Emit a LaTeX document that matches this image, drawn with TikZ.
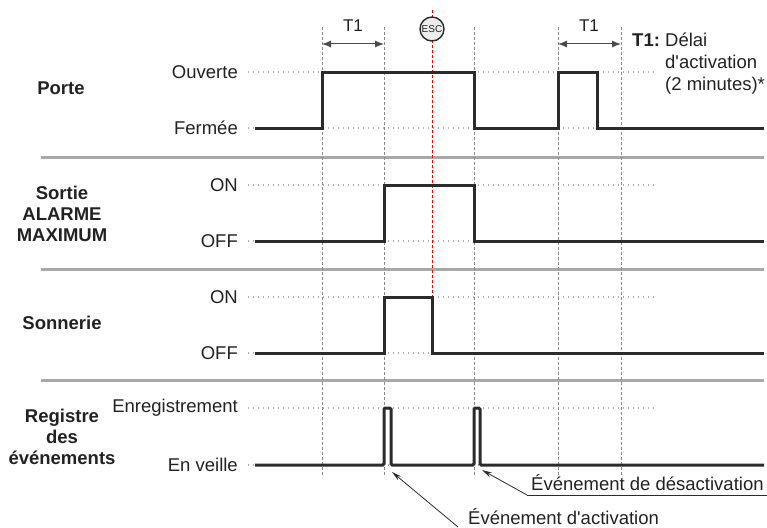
\documentclass[tikz,border=0pt]{standalone}
\usepackage{fontspec}
\setmainfont{Liberation Sans}[Ligatures=TeXOff]
\usetikzlibrary{arrows.meta}
\definecolor{sig}{HTML}{2B2B2B}
\definecolor{sepc}{HTML}{A8A8A8}
\definecolor{gridc}{HTML}{8A8A8A}
\definecolor{dotc}{HTML}{ADADAD}
\definecolor{txt}{HTML}{222222}
\begin{document}
\begin{tikzpicture}[x=1pt,y=-1pt,
  signal/.style={line width=3pt, draw=sig, line join=miter},
  sepline/.style={line width=3pt, draw=sepc},
  vgrid/.style={draw=gridc, line width=0.8pt, dash pattern=on 3pt off 2pt},
  redgrid/.style={draw=red, line width=0.8pt, dash pattern=on 3pt off 2pt},
  hdot/.style={draw=dotc, line width=1.1pt, dash pattern=on 1pt off 4pt},
  lvl/.style={anchor=east, inner sep=0pt, text=txt, font=\fontsize{18.5}{21}\selectfont},
  rowlbl/.style={inner sep=0pt, text=txt, align=center, font=\bfseries\fontsize{18.5}{21}\selectfont},
  tarrow/.style={draw=sig!85, line width=1pt, {Latex[length=9pt,width=7pt]}-{Latex[length=9pt,width=7pt]}},
  annot/.style={draw=sig, line width=0.8pt},
  annotarrow/.style={annot, -{Stealth[length=10pt,width=5pt]}},
  txtlbl/.style={inner sep=0pt, text=txt, font=\fontsize{18.5}{22}\selectfont}
]
\useasboundingbox (0,0) rectangle (767,527);

% separators
\draw[sepline] (41,157) -- (764,157);
\draw[sepline] (41,269) -- (764,269);
\draw[sepline] (41,380) -- (764,380);

% dotted level lines
\foreach \yy in {72,128,185,241,297,353,408,465}
  \draw[hdot] (248,\yy) -- (657,\yy);

% vertical timing lines
\foreach \xx in {322,384,474,558,621}
  \draw[vgrid] (\xx,27) -- (\xx,477);
\draw[redgrid] (432,10) -- (432,297);

% level labels
\node[lvl] (ouv) at (238,72) {Ouverte};
\node[lvl] (fer) at (238,128) {Fermée};
\node[lvl] (on1) at (238,185) {ON};
\node[lvl] (off1) at (238,241) {OFF};
\node[lvl] (on2) at (238,297) {ON};
\node[lvl] (off2) at (238,353) {OFF};
\node[lvl] (enr) at (238,408) {Enregistrement};
\node[lvl] (veil) at (238,465) {En veille};

% row labels
\node[rowlbl] (porte) at (61,88) {Porte};
\node[rowlbl] (sortie) at (62,214) {Sortie\\ALARME\\MAXIMUM};
\node[rowlbl] (sonn) at (62,323) {Sonnerie};
\node[rowlbl] (regi) at (62,437) {Registre\\des\\événements};

% signals
\draw[signal] (255,128) -- (322,128) -- (322,72) -- (474,72) -- (474,128) -- (558,128) -- (558,72) -- (597,72) -- (597,128) -- (764,128);
\draw[signal] (255,241) -- (384,241) -- (384,185) -- (474,185) -- (474,241) -- (764,241);
\draw[signal] (255,353) -- (384,353) -- (384,297) -- (432,297) -- (432,353) -- (764,353);
\draw[signal, rounded corners=1.2pt] (255,465) -- (384,465) -- (384,408) -- (391,408) -- (391,465) -- (474,465) -- (474,408) -- (480,408) -- (480,465) -- (764,465);

% ESC button
\node[circle, draw=sig, line width=1.4pt, fill=gray!15, minimum size=24pt, inner sep=0pt,
      font=\fontsize{10}{10}\selectfont, text=txt] (esc) at (432,29) {ESC};

% T1 arrows
\coordinate (t1a) at (322,44);
\coordinate (t1b) at (384,44);
\coordinate (t2a) at (558,44);
\coordinate (t2b) at (621,44);
\draw[tarrow] (t1a) -- (t1b);
\draw[tarrow] (t2a) -- (t2b);
\node[txtlbl, font=\fontsize{17}{20}\selectfont] (t1l) at (353,26) {T1};
\node[txtlbl, font=\fontsize{17}{20}\selectfont] (t2l) at (589,26) {T1};

% legend
\node[txtlbl, anchor=base west, font=\bfseries\fontsize{18.5}{22}\selectfont] (legk) at (632,47) {T1:};
\node[txtlbl, anchor=north west, align=left] (legv) at (665,33) {Délai\\d'activation\\(2 minutes)*};

% annotations
\coordinate (dsTip) at (482,470);
\coordinate (dsU) at (527,495);
\coordinate (dsEnd) at (767,495);
\node[txtlbl, anchor=base west] (dsT) at (531,490) {Événement de désactivation};
\draw[annot] (dsU) -- (dsEnd);
\draw[annotarrow] (dsU) -- (dsTip);

\coordinate (acTip) at (392,472);
\coordinate (acU) at (458,527);
\node[txtlbl, anchor=base west] (acT) at (468,524) {Événement d'activation};
\draw[annotarrow] (acU) -- (acTip);
\end{tikzpicture}
\end{document}
